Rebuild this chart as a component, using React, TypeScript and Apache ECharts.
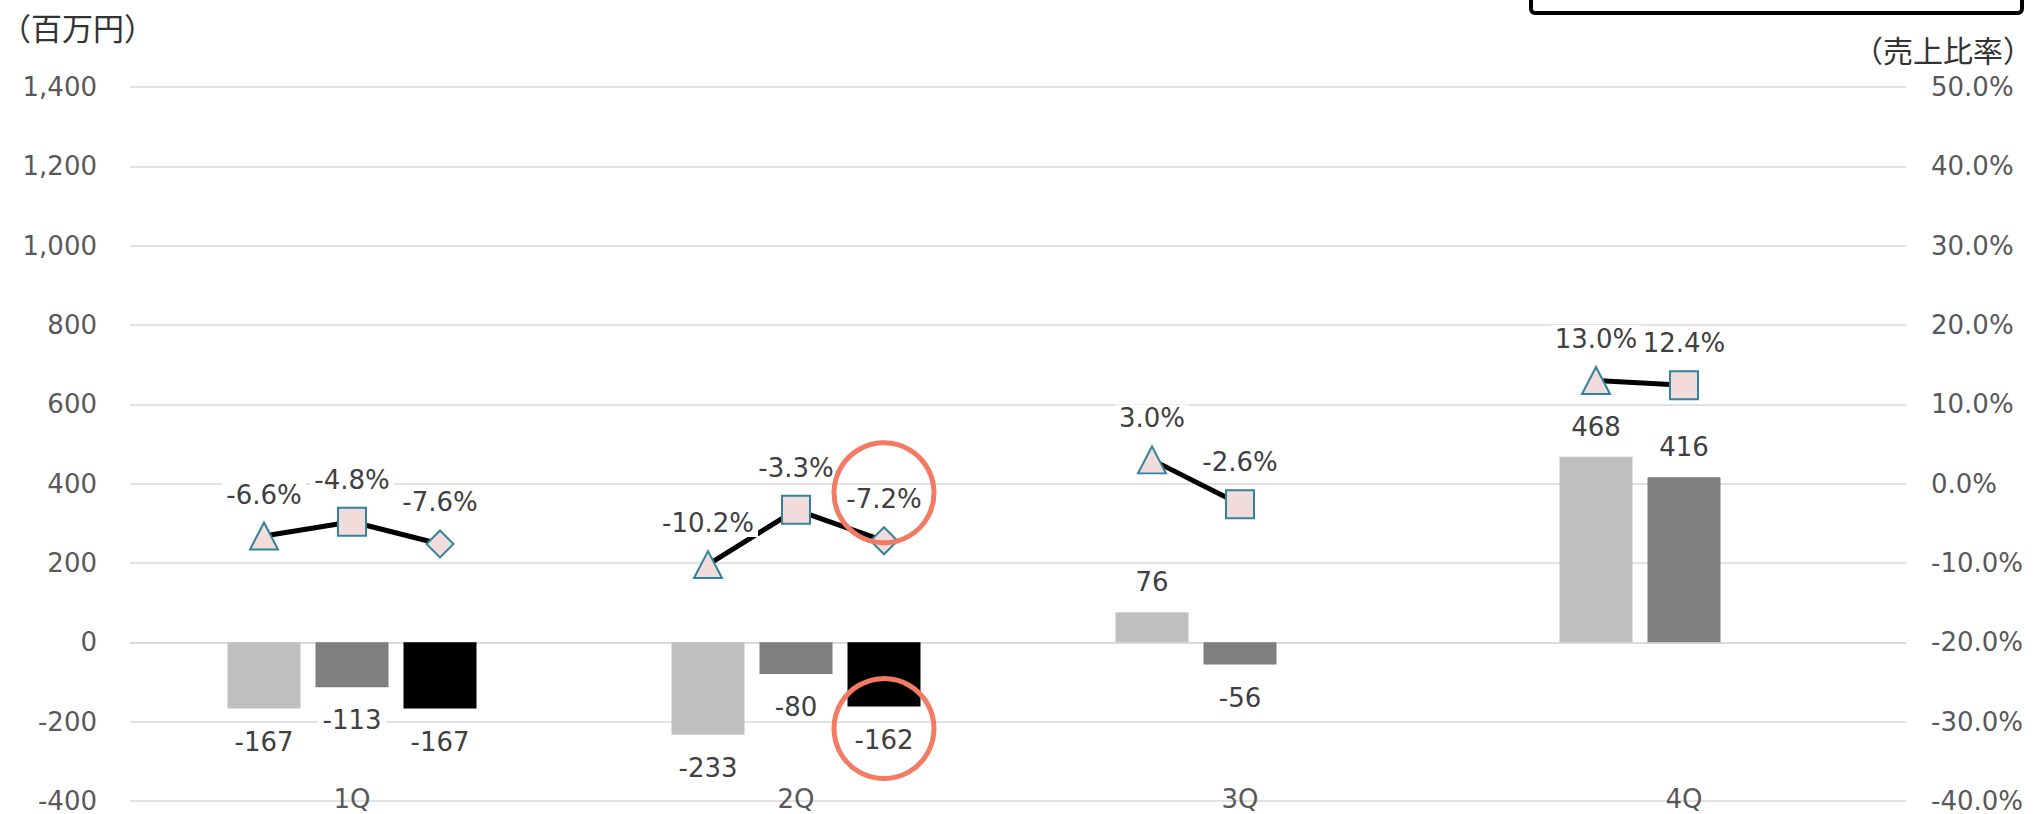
import React, { useEffect, useRef } from "react";
import * as echarts from "echarts";

const categories = ["1Q", "2Q", "3Q", "4Q"];
// bar values (百万円)
const barLight = [-167, -233, 76, 468];
const barMid = [-113, -80, -56, 416];
const barBlack: (number | null)[] = [-167, -162, null, null];
// ratio values (%)
const ratioTri: (number | null)[] = [-6.6, -10.2, 3.0, 13.0];
const ratioSq: (number | null)[] = [-4.8, -3.3, -2.6, 12.4];
const ratioDia: (number | null)[] = [-7.6, -7.2, null, null];

const leftTicks = { min: -400, max: 1400, interval: 200 };
const rightTicks = { min: -40, max: 50, interval: 10 };

const W = 2033;
const H = 814;
const GRID = { left: 130, right: 127, top: 87, bottom: 9 };
const BAR_W = 73;
const BAR_GAP = 15;
const FS = 26;

const FONT = "'DejaVu Sans', 'Noto Sans CJK JP', sans-serif";
const JP_FONT = "'Noto Sans CJK JP', sans-serif";

export default function App() {
  const ref = useRef<HTMLDivElement>(null);
  useEffect(() => {
    if (!ref.current) return;
    const chart = echarts.init(ref.current, undefined, { renderer: "svg" });
    const bandW = (W - GRID.left - GRID.right) / categories.length;
    const off = (BAR_W + BAR_GAP) / bandW;

    const barLabel = (v: number | null) => ({
      show: true,
      position: v !== null && v < 0 ? "bottom" : "top",
      distance: v !== null && v < 0 ? 19 : 16,
      fontSize: FS,
      fontFamily: FONT,
      color: "#404040",
      backgroundColor: "#ffffff",
      padding: [1, 4],
    });
    const barData = (arr: (number | null)[]) =>
      arr.map((v) => (v === null ? null : { value: v, label: barLabel(v) }));

    const symbols = [
      { name: "triangle", size: [28, 27] },
      { name: "rect", size: [28, 28] },
      { name: "diamond", size: [27, 27] },
    ];
    const lineSeries = categories.map((_, i) => {
      const vals = [ratioTri[i], ratioSq[i], ratioDia[i]];
      const data: any[] = [];
      vals.forEach((v, j) => {
        if (v === null) return;
        data.push({
          value: [i + 0.5 + (j - 1) * off, v],
          symbol: symbols[j].name,
          symbolSize: symbols[j].size,
        });
      });
      return {
        type: "line",
        xAxisIndex: 1,
        yAxisIndex: 1,
        data,
        z: 5,
        lineStyle: { color: "#000000", width: 5 },
        itemStyle: { color: "#f2dcdb", borderColor: "#31849b", borderWidth: 2 },
        label: {
          show: true,
          position: "top",
          distance: 13,
          fontSize: FS,
          fontFamily: FONT,
          color: "#404040",
          backgroundColor: "#ffffff",
          padding: [1, 4],
          formatter: (p: any) => p.value[1].toFixed(1) + "%",
        },
      };
    });

    const option: any = {
      animation: false,
      backgroundColor: "#ffffff",
      textStyle: { fontFamily: FONT },
      grid: GRID,
      xAxis: [
        {
          type: "category",
          data: categories,
          axisLine: { show: true, lineStyle: { color: "#d9d9d9", width: 1.5 } },
          axisTick: { show: false },
          axisLabel: {
            margin: -15,
            fontSize: FS,
            fontFamily: FONT,
            color: "#595959",
          },
          splitLine: { show: false },
        },
        { type: "value", min: 0, max: 4, show: false },
      ],
      yAxis: [
        {
          type: "value",
          ...leftTicks,
          axisLine: { show: false },
          axisTick: { show: false },
          axisLabel: {
            margin: 33,
            fontSize: FS,
            fontFamily: FONT,
            color: "#595959",
            formatter: (v: number) => v.toLocaleString("en-US"),
          },
          splitLine: { lineStyle: { color: "#d9d9d9", width: 1.5 } },
        },
        {
          type: "value",
          ...rightTicks,
          axisLine: { show: false },
          axisTick: { show: false },
          axisLabel: {
            margin: 25,
            fontSize: FS,
            fontFamily: FONT,
            color: "#595959",
            formatter: (v: number) => v.toFixed(1) + "%",
          },
          splitLine: { show: false },
        },
      ],
      series: [
        {
          type: "bar",
          barWidth: BAR_W,
          barGap: (BAR_GAP / BAR_W) * 100 + "%",
          itemStyle: { color: "#bfbfbf" },
          data: barData(barLight),
        },
        {
          type: "bar",
          barWidth: BAR_W,
          barGap: (BAR_GAP / BAR_W) * 100 + "%",
          itemStyle: { color: "#7f7f7f" },
          data: barData(barMid),
        },
        {
          type: "bar",
          barWidth: BAR_W,
          barGap: (BAR_GAP / BAR_W) * 100 + "%",
          itemStyle: { color: "#000000" },
          data: barData(barBlack),
        },
        ...lineSeries,
      ],
    };
    chart.setOption(option);

    const p1 = chart.convertToPixel({ xAxisIndex: 1, yAxisIndex: 1 } as any, [1.5 + off, ratioDia[1] as number]) as number[];
    const p2 = chart.convertToPixel({ xAxisIndex: 1, yAxisIndex: 0 } as any, [1.5 + off, barBlack[1] as number]) as number[];

    chart.setOption({
      graphic: [
        {
          type: "text",
          left: 0,
          top: 11,
          style: { text: "（百万円）", fontSize: 31, fontFamily: JP_FONT, fill: "#333333" },
        },
        {
          type: "text",
          right: 0,
          top: 34,
          style: { text: "（売上比率）", fontSize: 30, fontFamily: JP_FONT, fill: "#333333" },
        },
        {
          type: "rect",
          shape: { x: 1531, y: -20, width: 491, height: 33, r: 4 },
          style: { fill: "#ffffff", stroke: "#000000", lineWidth: 4 },
          z: 10,
        },
        {
          type: "circle",
          shape: { cx: p1[0], cy: p1[1] - 48, r: 50 },
          style: { fill: "none", stroke: "#f47b63", lineWidth: 5 },
          z: 20,
        },
        {
          type: "circle",
          shape: { cx: p2[0], cy: p2[1] + 22, r: 50 },
          style: { fill: "none", stroke: "#f47b63", lineWidth: 5 },
          z: 20,
        },
      ],
    });

    return () => chart.dispose();
  }, []);
  return (
    <div
      ref={ref}
      style={{ position: "fixed", left: 0, top: 0, width: W, height: H, background: "#fff" }}
    />
  );
}
